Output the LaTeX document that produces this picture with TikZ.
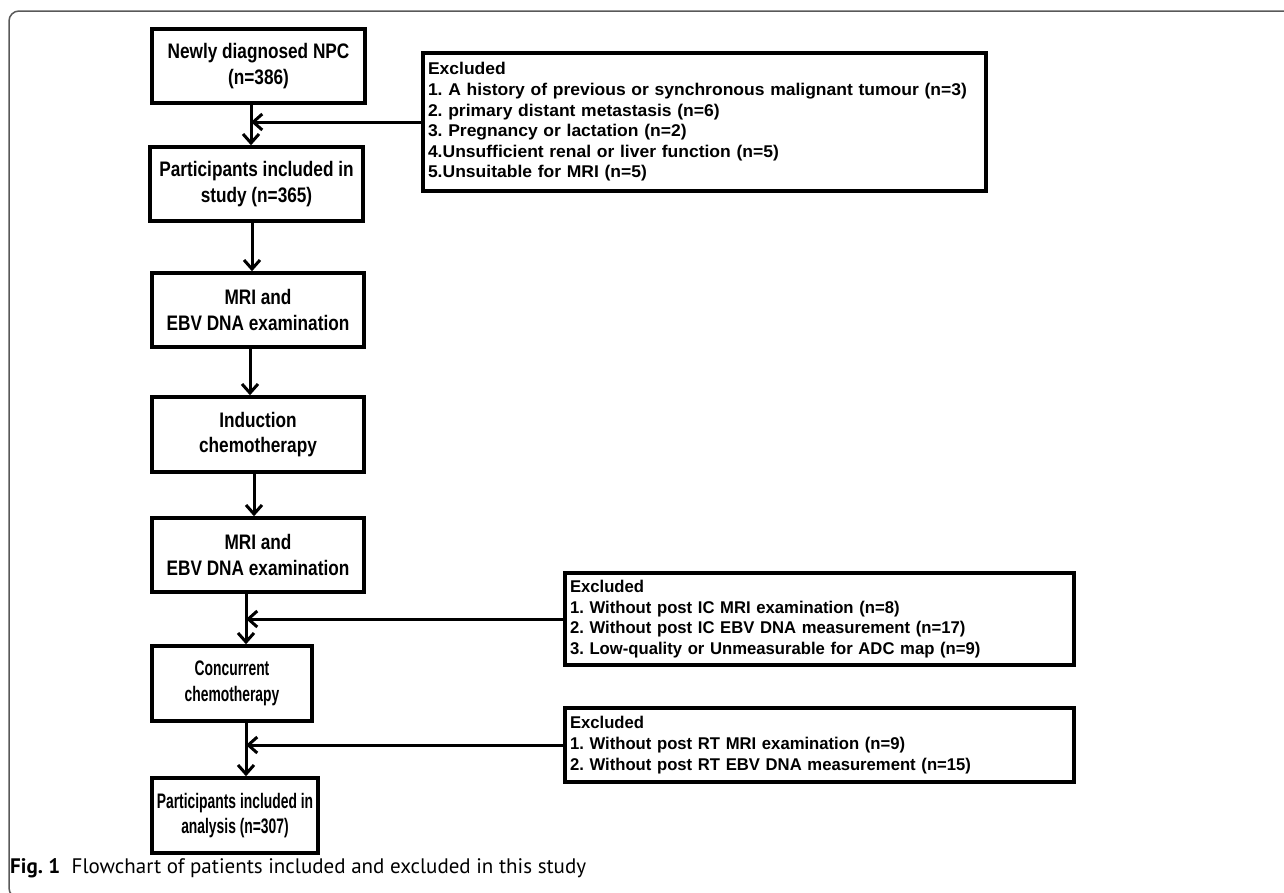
\documentclass[tikz,border=0pt]{standalone}
\usepackage{fontspec}
\setmainfont{Liberation Sans}
\newfontfamily\boxfont{Liberation Sans}[FakeStretch=0.82]
\newfontfamily\narrowfont{Liberation Sans}[FakeStretch=0.66]
\newfontfamily\exclfont{Liberation Sans}[FakeStretch=1.03]
\newfontfamily\excltwofont{Liberation Sans}[FakeStretch=0.98]
\newfontfamily\capfont{PT Sans}
\frenchspacing
\usetikzlibrary{arrows.meta}
\begin{document}
\begin{tikzpicture}[x=1pt,y=-1pt,
  box/.style={draw=black, line width=3.5pt, minimum height=74pt, align=center,
    inner sep=0pt, font=\boxfont\bfseries\fontsize{21}{25.5}\selectfont},
  nbox/.style={box, font=\narrowfont\bfseries\fontsize{21}{25.5}\selectfont},
  excl/.style={draw=black, line width=3.5pt, align=left, inner xsep=5pt, inner ysep=0pt,
    font=\exclfont\bfseries\fontsize{17}{20.6}\selectfont},
  exclb/.style={excl, font=\excltwofont\bfseries\fontsize{17}{20.6}\selectfont},
  arr/.style={line width=3pt, -{Straight Barb[length=9pt,width=16pt,line width=3pt]}},
  frame/.style={draw=black!65, line width=1.5pt, rounded corners=10pt}
]
\useasboundingbox (0,0) rectangle (1284,892);
\clip (0,0) rectangle (1284,892);
\draw[frame] (9,11) rectangle (1320,898);

\node[box, minimum width=213pt] (b1) at (258.5,66) {Newly diagnosed NPC\\(n=386)};
\node[box, minimum width=213pt] (b2) at (256.5,184) {Participants included in\\study (n=365)};
\node[box, minimum width=212pt] (b3) at (258,310) {MRI and\\EBV DNA examination};
\node[box, minimum width=212pt, minimum height=75pt] (b4) at (258,434.5) {Induction\\chemotherapy};
\node[box, minimum width=212pt] (b5) at (258,555) {MRI and\\EBV DNA examination};
\node[nbox, minimum width=160pt, minimum height=75pt] (b6) at (232,683.5) {Concurrent\\chemotherapy};
\node[nbox, minimum width=166pt, minimum height=75pt] (b7) at (235,815.5) {Participants included in\\analysis (n=307)};

\node[excl, text width=553pt, minimum height=138pt] (e1) at (704.5,122) {Excluded\\
1. A history of previous or synchronous malignant tumour (n=3)\\
2. primary distant metastasis (n=6)\\
3. Pregnancy or lactation (n=2)\\
4.Unsufficient renal or liver function (n=5)\\
5.Unsuitable for MRI (n=5)};
\node[exclb, text width=499pt, minimum height=92pt] (e2) at (819.5,619) {Excluded\\
1. Without post IC MRI examination (n=8)\\
2. Without post IC EBV DNA measurement (n=17)\\
3. Low-quality or Unmeasurable for ADC map (n=9)};
\node[exclb, text width=499pt, minimum height=74pt] (e3) at (819.5,745) {Excluded\\
1. Without post RT MRI examination (n=9)\\
2. Without post RT EBV DNA measurement (n=15)};

\coordinate (x1) at (251,0);
\coordinate (x2) at (252,0);
\coordinate (x3) at (250,0);
\coordinate (x4) at (254,0);
\coordinate (x5) at (246,0);

\draw[arr] (b1.south -| x1) -- (b2.north -| x1);
\draw[arr] (e1.west) -- (e1.west -| x1);
\draw[arr] (b2.south -| x2) -- (b3.north -| x2);
\draw[arr] (b3.south -| x3) -- (b4.north -| x3);
\draw[arr] (b4.south -| x4) -- (b5.north -| x4);
\draw[arr] (b5.south -| x5) -- (b6.north -| x5);
\draw[arr] (e2.west) -- (e2.west -| x5);
\draw[arr] (b6.south -| x5) -- (b7.north -| x5);
\draw[arr] (e3.west) -- (e3.west -| x5);

\node[anchor=base west, inner sep=0pt, font=\capfont\fontsize{21}{24}\selectfont] (cap) at (10,873)
  {\textbf{Fig. 1}\hspace{0.55em}Flowchart of patients included and excluded in this study};
\end{tikzpicture}
\end{document}
